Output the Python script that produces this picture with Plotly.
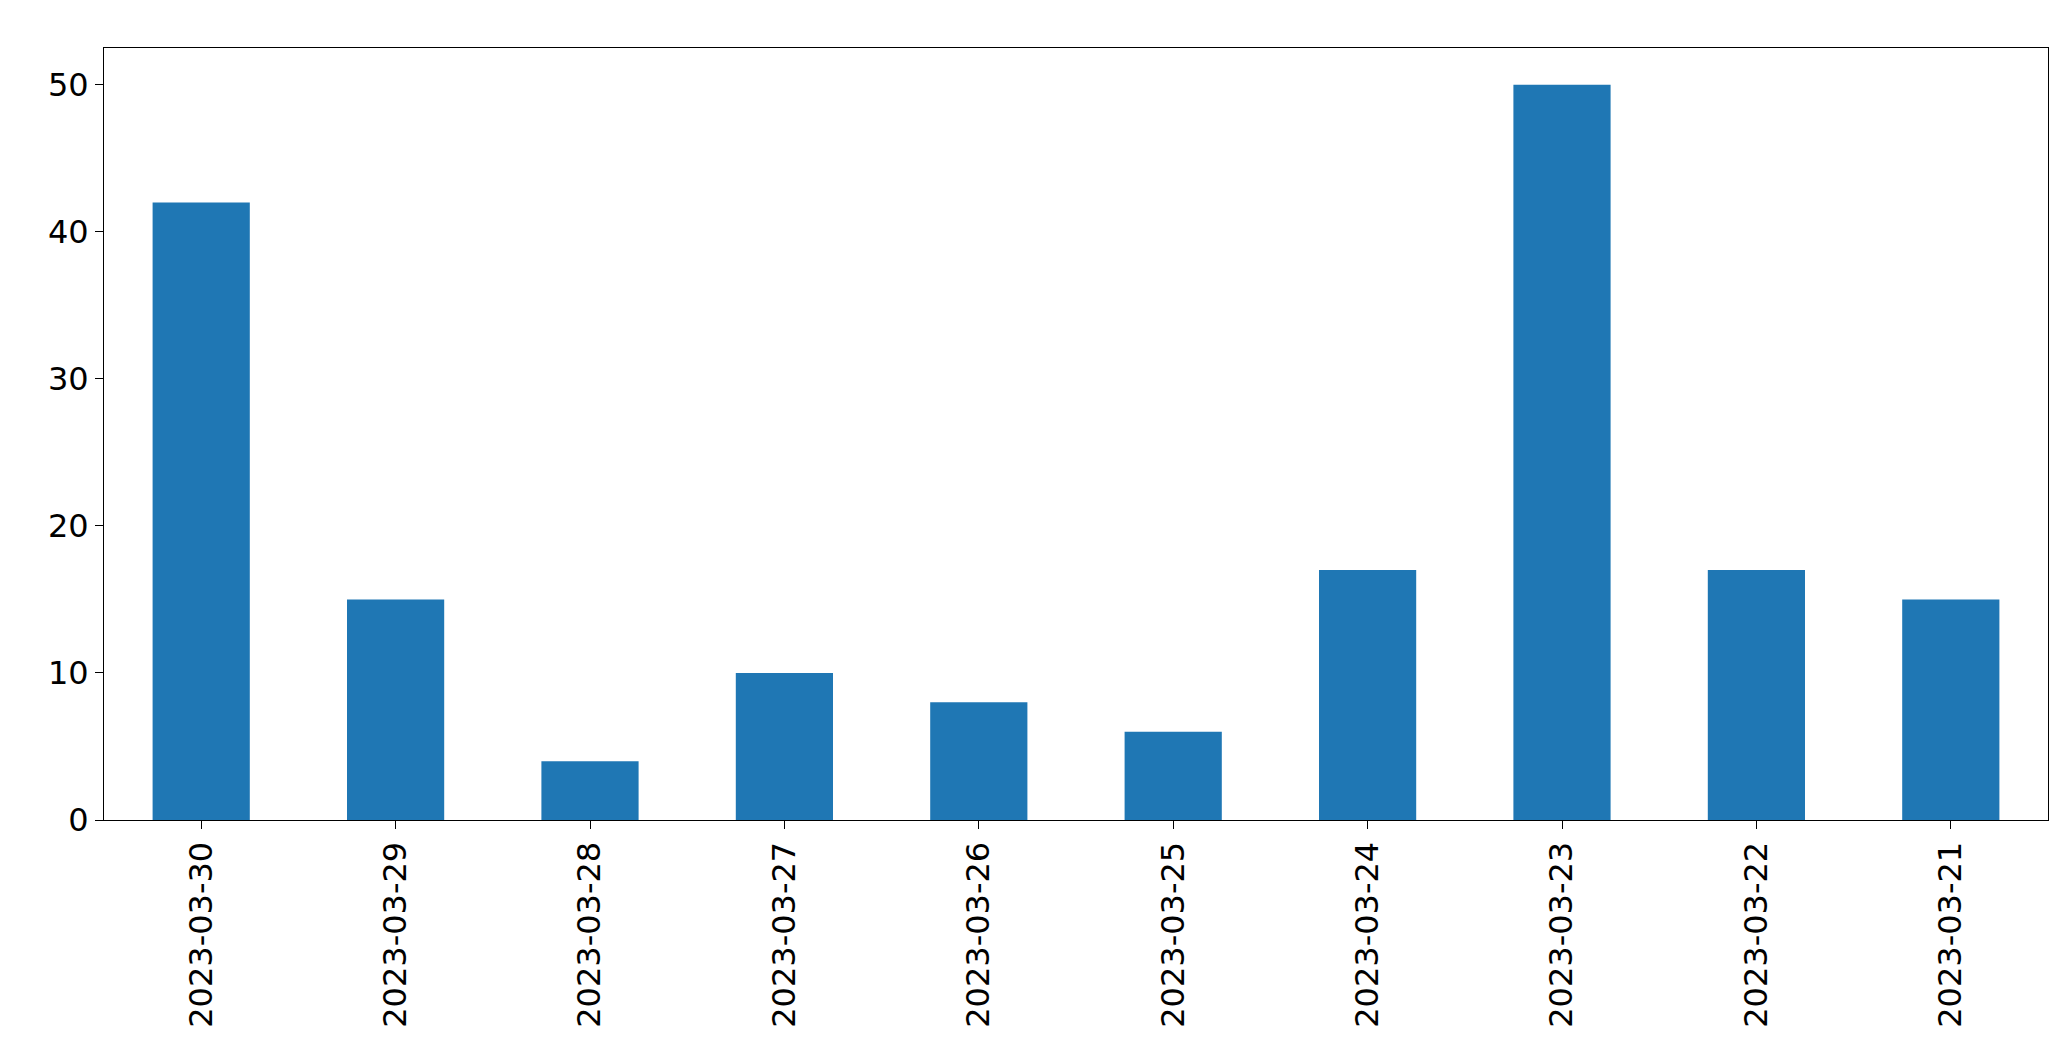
import plotly.graph_objects as go

dates = ["2023-03-30", "2023-03-29", "2023-03-28", "2023-03-27", "2023-03-26",
         "2023-03-25", "2023-03-24", "2023-03-23", "2023-03-22", "2023-03-21"]
counts = [42, 15, 4, 10, 8, 6, 17, 50, 17, 15]

fig = go.Figure(go.Bar(x=dates, y=counts, width=0.5, marker_color="#1f77b4",
                       marker_line_width=0))

fig.update_layout(
    width=2071, height=1061,
    plot_bgcolor="white", paper_bgcolor="white",
    margin=dict(l=96, r=31, t=40, b=249),
    font=dict(family="DejaVu Sans", size=32, color="black"),
    showlegend=False,
)
fig.update_xaxes(type="category", range=[-0.5, 9.5], tickangle=-90,
                 showline=True, linecolor="black", mirror=True,
                 ticks="outside", ticklen=8, tickcolor="black", showgrid=False)
fig.update_yaxes(range=[0, 52.5], dtick=10, showline=True, linecolor="black",
                 mirror=True, ticks="outside", ticklen=8, tickcolor="black",
                 showgrid=False, zeroline=False)

fig.write_html("out.html")
